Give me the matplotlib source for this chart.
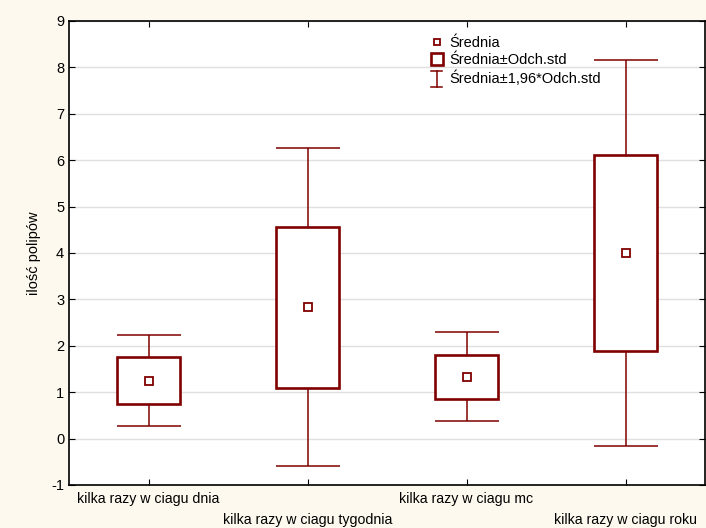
import matplotlib.pyplot as plt
from matplotlib.lines import Line2D
from matplotlib.patches import Rectangle
from matplotlib.legend_handler import HandlerBase

# --- data ---
categories = ["kilka razy w ciagu dnia", "kilka razy w ciagu tygodnia",
              "kilka razy w ciagu mc", "kilka razy w ciagu roku"]
means   = [1.25, 2.84, 1.33, 4.01]
sd_low  = [0.75, 1.09, 0.85, 1.89]
sd_high = [1.75, 4.57, 1.80, 6.12]
ci_low  = [0.27, -0.60, 0.37, -0.16]
ci_high = [2.23, 6.27, 2.30, 8.16]
yticks  = list(range(-1, 10))

red = "#800000"
plt.rcParams["font.family"] = ["Liberation Sans", "DejaVu Sans"]
plt.rcParams["axes.unicode_minus"] = False

fig = plt.figure(figsize=(7.06, 5.28), dpi=100, facecolor="#fef9ee")
ax = fig.add_axes([69 / 706, 43 / 528, 636 / 706, 464 / 528])
ax.set_facecolor("white")

x = list(range(len(categories)))

# whiskers (mean +/- 1.96 sd)
yerr = [[m - lo for m, lo in zip(means, ci_low)],
        [hi - m for m, hi in zip(means, ci_high)]]
ax.errorbar(x, means, yerr=yerr, fmt="none", ecolor=red, elinewidth=1.1,
            capsize=23, capthick=1.1, zorder=2)

# boxes (mean +/- sd)
ax.bar(x, [h - l for h, l in zip(sd_high, sd_low)], bottom=sd_low, width=0.4,
       facecolor="white", edgecolor=red, linewidth=1.9, zorder=3)

# means
ax.plot(x, means, ls="none", marker="s", ms=5.5, mfc="white", mec=red,
        mew=1.3, zorder=4)

ax.set_xlim(-0.5, 3.5)
ax.set_ylim(-1, 9)
ax.set_yticks(yticks)
ax.set_xticks(x)
ax.set_xticklabels(categories, fontsize=10.2)
for i, t in enumerate(ax.xaxis.get_major_ticks()):
    t.set_pad(5 if i % 2 == 0 else 20)
ax.tick_params(axis="y", labelsize=10.5)
ax.tick_params(direction="in", length=4, top=True, right=True, color="black")
ax.grid(axis="y", color="#e0e0e0", linewidth=1)
ax.set_axisbelow(True)
for s in ax.spines.values():
    s.set_linewidth(1.2)
ax.set_ylabel("ilość polipów", fontsize=10.5, labelpad=7)


class HandlerCI(HandlerBase):
    def create_artists(self, legend, orig_handle, xdescent, ydescent,
                       width, height, fontsize, trans):
        cx = width / 2 - xdescent
        top, bot = height, -3
        return [Line2D([cx, cx], [bot, top], color=red, lw=1.1, transform=trans),
                Line2D([cx - 4, cx + 4], [top, top], color=red, lw=1.1, transform=trans),
                Line2D([cx - 4, cx + 4], [bot, bot], color=red, lw=1.1, transform=trans)]


handles = [
    Line2D([], [], ls="none", marker="s", ms=5, mfc="white", mec=red, mew=1.3),
    Rectangle((0, 0), 1, 1, facecolor="white", edgecolor=red, linewidth=1.9),
    object(),
]
labels = ["Średnia", "Średnia±Odch.std", "Średnia±1,96*Odch.std"]
leg = ax.legend(handles, labels, handler_map={object: HandlerCI()},
                loc="upper left", frameon=False, fontsize=10.5,
                handlelength=0.8, handleheight=0.9, handletextpad=0.45,
                labelspacing=0.22, borderaxespad=0, borderpad=0.0)
leg.set_bbox_to_anchor((431 / 706, 1 - 36 / 528), transform=fig.transFigure)

fig.savefig("out.png", dpi=100, facecolor=fig.get_facecolor())
